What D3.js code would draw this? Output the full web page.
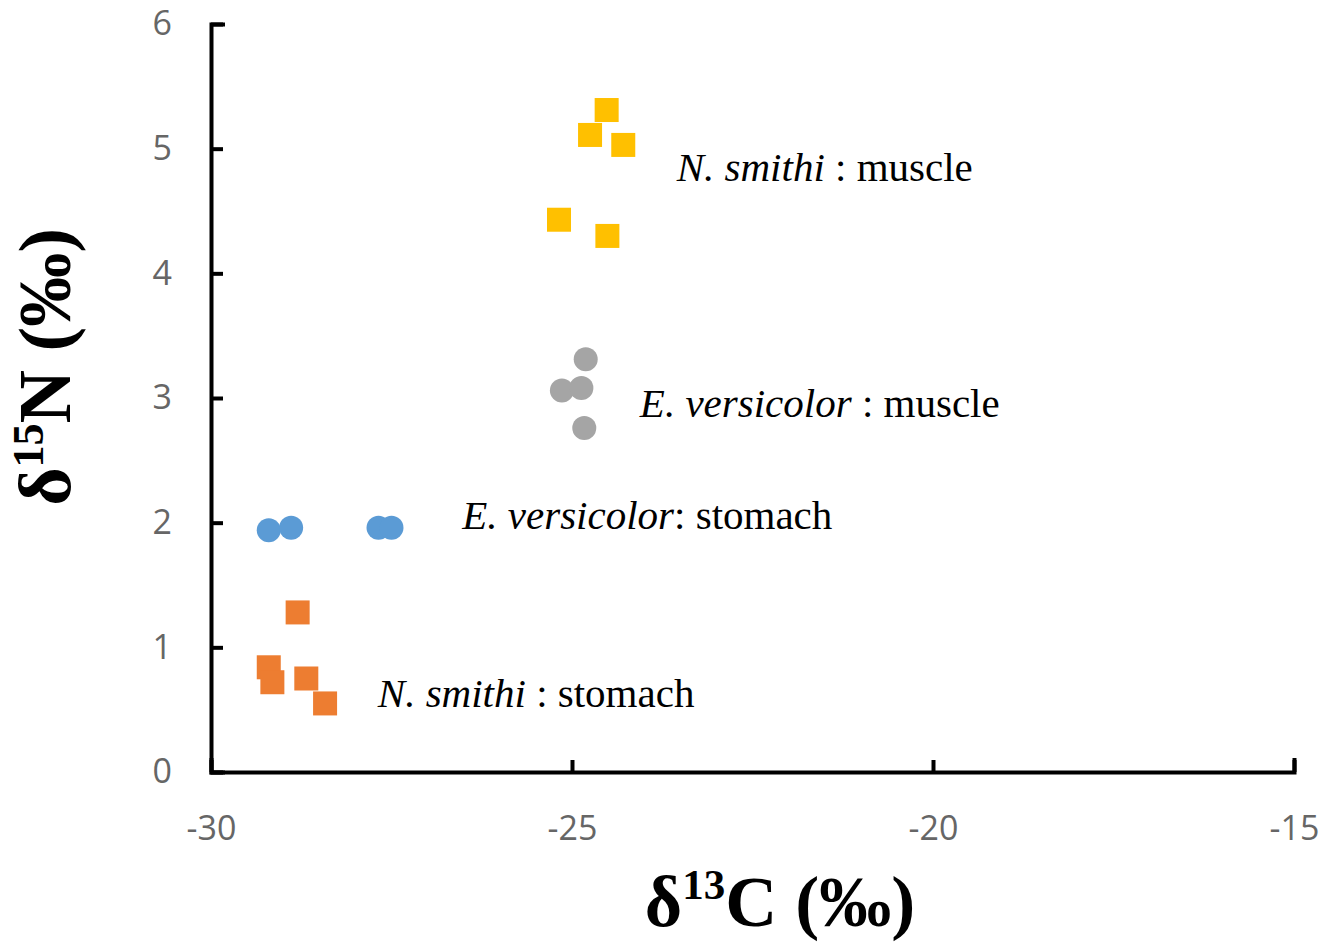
<!DOCTYPE html>
<html>
<head>
<meta charset="utf-8">
<script src="https://cdn.jsdelivr.net/npm/d3@7"></script>
<style>
  body { margin: 0; background: #fff; }
</style>
</head>
<body>
<div id="grafico"></div>
<script>
// valores: [d13C, d15N]
const nSmithiMusculo = [[-24.52, 5.31], [-24.75, 5.11], [-24.29, 5.03], [-25.18, 4.43], [-24.51, 4.30]];
const eVersicolorMusculo = [[-24.81, 3.31], [-25.14, 3.06], [-24.87, 3.08], [-24.83, 2.76]];
const eVersicolorEstomago = [[-29.20, 1.94], [-28.89, 1.96], [-27.68, 1.96], [-27.50, 1.96]];
const nSmithiEstomago = [[-28.80, 1.28], [-29.20, 0.84], [-29.15, 0.72], [-28.68, 0.75], [-28.42, 0.55]];

const ticksX = [-30, -25, -20, -15];
const ticksY = [0, 1, 2, 3, 4, 5, 6];

// etiquetas: parte en cursiva, resto, ancla en unidades de datos
const etiquetas = [
    { cursiva: "N. smithi", resto: " : muscle", x: -23.55, y: 4.74 },
    { cursiva: "E. versicolor", resto: " : muscle", x: -24.06, y: 2.85 },
    { cursiva: "E. versicolor", resto: ": stomach", x: -26.52, y: 1.95 },
    { cursiva: "N. smithi", resto: " : stomach", x: -27.69, y: 0.52 }
];

const ancho = 1337, alto = 947;
const margen = { izq: 211, sup: 24, der: 43, inf: 175 };
const anchoInterno = ancho - margen.izq - margen.der;
const altoInterno = alto - margen.sup - margen.inf;

const escalaX = d3.scaleLinear().domain([-30, -15]).range([0, anchoInterno]);
const escalaY = d3.scaleLinear().domain([0, 6]).range([altoInterno, 0]);

const $svg = d3.select("#grafico")
    .append("svg")
    .attr("width", ancho)
    .attr("height", alto);

const g = $svg.append("g")
    .attr("transform", `translate(${margen.izq},${margen.sup})`);

// ejes (guion normal como en el original)
const formato = d => String(d);
const ejeX = g.append("g")
    .attr("transform", `translate(0,${altoInterno})`)
    .call(d3.axisBottom(escalaX).tickValues(ticksX).tickSize(-12).tickPadding(44).tickFormat(formato));
const ejeY = g.append("g")
    .call(d3.axisLeft(escalaY).tickValues(ticksY).tickSize(-12).tickPadding(39).tickFormat(formato));

[ejeX, ejeY].forEach(eje => {
    eje.selectAll("path, line").attr("stroke", "#000").attr("stroke-width", 4);
    eje.select(".domain").attr("stroke-linecap", "square");
    eje.selectAll("text")
        .attr("fill", "#666666")
        .attr("font-size", 34)
        .attr("font-family", "Open Sans, sans-serif");
});

// puntos
const lado = 24;
const dibujarCuadrados = (datos, color) => {
    g.append("g").selectAll("rect")
        .data(datos)
        .join("rect")
        .attr("x", d => escalaX(d[0]) - lado / 2)
        .attr("y", d => escalaY(d[1]) - lado / 2)
        .attr("width", lado)
        .attr("height", lado)
        .attr("fill", color);
};
const dibujarCirculos = (datos, color) => {
    g.append("g").selectAll("circle")
        .data(datos)
        .join("circle")
        .attr("cx", d => escalaX(d[0]))
        .attr("cy", d => escalaY(d[1]))
        .attr("r", lado / 2)
        .attr("fill", color);
};

dibujarCuadrados(nSmithiMusculo, "#FFC000");
dibujarCirculos(eVersicolorMusculo, "#A5A5A5");
dibujarCirculos(eVersicolorEstomago, "#5B9BD5");
dibujarCuadrados(nSmithiEstomago, "#ED7D31");

// etiquetas de grupos
etiquetas.forEach(e => {
    const t = g.append("text")
        .attr("x", escalaX(e.x))
        .attr("y", escalaY(e.y))
        .attr("font-family", "Liberation Serif, Times New Roman, serif")
        .attr("font-size", 41)
        .attr("fill", "#000");
    t.append("tspan").attr("font-style", "italic").text(e.cursiva);
    t.append("tspan").text(e.resto);
});

// titulos de ejes
const tituloX = $svg.append("text")
    .attr("x", 780)
    .attr("y", 926)
    .attr("text-anchor", "middle")
    .attr("font-family", "Liberation Serif, Times New Roman, serif")
    .attr("font-weight", "bold")
    .attr("font-size", 72);
tituloX.append("tspan").text("δ");
tituloX.append("tspan").attr("font-size", 43).attr("dy", "-0.62em").text("13");
tituloX.append("tspan").attr("dy", "0.37em").text("C (‰)");

const tituloY = $svg.append("text")
    .attr("transform", "translate(70,367) rotate(-90)")
    .attr("text-anchor", "middle")
    .attr("font-family", "Liberation Serif, Times New Roman, serif")
    .attr("font-weight", "bold")
    .attr("font-size", 74);
tituloY.append("tspan").text("δ");
tituloY.append("tspan").attr("font-size", 44).attr("dy", "-0.62em").text("15");
tituloY.append("tspan").attr("dy", "0.37em").text("N (‰)");
</script>
</body>
</html>
